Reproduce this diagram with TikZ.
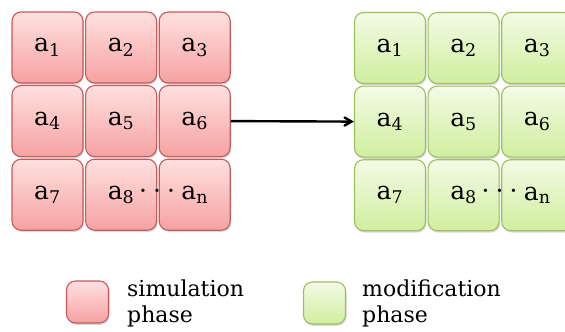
\documentclass[tikz,border=0pt]{standalone}
\usepackage{fontspec}
\setmainfont{DejaVu Serif}
\usetikzlibrary{arrows,positioning,shadows}

\definecolor{simline}{HTML}{C65A5A}
\definecolor{simtop}{HTML}{FFE0E0}
\definecolor{simbot}{HTML}{F6A2A2}
\definecolor{modline}{HTML}{9DBF62}
\definecolor{modtop}{HTML}{F3FBE6}
\definecolor{modbot}{HTML}{D0EE9E}

\tikzset{
  cell/.style={rectangle, rounded corners=9pt, minimum size=71pt, inner sep=0pt,
               line width=1.1pt, font=\fontsize{25}{30}\selectfont,
               drop shadow={opacity=0.3, shadow xshift=1pt, shadow yshift=-1.8pt}},
  sim/.style={cell, draw=simline, top color=simtop, bottom color=simbot},
  mod/.style={cell, draw=modline, top color=modtop, bottom color=modbot},
  key/.style={minimum size=42pt},
  dotrow/.style={inner sep=0pt, anchor=base, font=\fontsize{25}{30}\selectfont},
  keytext/.style={anchor=west, align=left, inner sep=0pt, font=\fontsize{22}{26}\selectfont}
}

\begin{document}
\begin{tikzpicture}[x=1pt,y=-1pt,node distance=1.5pt]
  \useasboundingbox (0,0) rectangle (565,332);

  % simulation grid
  \node[sim] (s1) at (47.5,47.5) {a\textsubscript{1}};
  \node[sim] (s2) [right=of s1] {a\textsubscript{2}};
  \node[sim] (s3) [right=of s2] {a\textsubscript{3}};
  \node[sim] (s4) [below=of s1] {a\textsubscript{4}};
  \node[sim] (s5) [right=of s4] {a\textsubscript{5}};
  \node[sim] (s6) [right=of s5] {a\textsubscript{6}};
  \node[sim] (s7) [below=of s4] {a\textsubscript{7}};
  \node[sim] (s8) [right=of s7] {a\textsubscript{8}};
  \node[sim] (s9) [right=of s8] {a\textsubscript{n}};
  \node[dotrow] (sdots) at (s8.base east) {·\hspace{6pt}·\hspace{6pt}·};

  % modification grid
  \node[mod] (m1) at (390,48) {a\textsubscript{1}};
  \node[mod] (m2) [right=of m1] {a\textsubscript{2}};
  \node[mod] (m3) [right=of m2] {a\textsubscript{3}};
  \node[mod] (m4) [below=of m1] {a\textsubscript{4}};
  \node[mod] (m5) [right=of m4] {a\textsubscript{5}};
  \node[mod] (m6) [right=of m5] {a\textsubscript{6}};
  \node[mod] (m7) [below=of m4] {a\textsubscript{7}};
  \node[mod] (m8) [right=of m7] {a\textsubscript{8}};
  \node[mod] (m9) [right=of m8] {a\textsubscript{n}};
  \node[dotrow] (mdots) at (m8.base east) {·\hspace{6pt}·\hspace{6pt}·};

  \draw[->,>=angle 60,line width=2.4pt] (s6.east) -- (m4.west);

  % legend
  \node[sim,key] (simkey) at (87.5,302) {};
  \node[keytext] (simtext) at (127,303) {simulation\\phase};
  \node[mod,key] (modkey) at (324.5,303) {};
  \node[keytext] (modtext) at (362,303) {modification\\phase};
\end{tikzpicture}
\end{document}
